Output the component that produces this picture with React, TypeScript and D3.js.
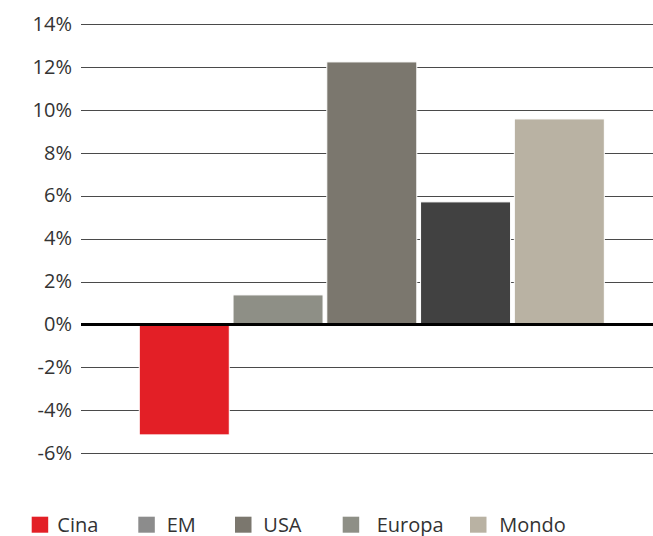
import React from "react";
import * as d3 from "d3";

const categories = ["Cina", "EM", "USA", "Europa", "Mondo"];
const values = [-5.15, 1.38, 12.25, 5.72, 9.59];
const barColors = ["#e31f26", "#8e8f86", "#7b776e", "#414141", "#b9b2a3"];
const legendLabels = ["Cina", "EM", "USA", "Europa", "Mondo"];
const legendColors = ["#e31f26", "#8c8c8c", "#7b776e", "#8e8f86", "#b9b2a3"];
const yTicks = [14, 12, 10, 8, 6, 4, 2, 0, -2, -4, -6];

const W = 653;
const H = 536;
const legendSquareX = [31.7, 138.3, 235, 342.7, 470];
const legendTextX = [57.3, 166.7, 263.3, 376.7, 499.3];

export default function App() {
  const y = d3.scaleLinear().domain([-6, 14]).range([453.1, 24.4]);
  const x = d3
    .scaleBand<string>()
    .domain(categories)
    .range([137.4, 606.2])
    .paddingInner(0.04)
    .paddingOuter(0.02);
  const gridX0 = 81;
  const font = "'Open Sans', sans-serif";

  return (
    <div style={{ position: "fixed", left: 0, top: 0, width: W, height: H }}>
      <svg width={W} height={H} style={{ display: "block" }}>
        <rect width={W} height={H} fill="#fff" />
        {yTicks.map((t) => (
          <g key={t}>
            {t !== 0 && (
              <line
                x1={gridX0}
                x2={W}
                y1={Math.round(y(t)) + 0.5}
                y2={Math.round(y(t)) + 0.5}
                stroke="#4a4a4a"
                strokeWidth={1}
              />
            )}
            <text
              x={72}
              y={y(t) + 6.5}
              textAnchor="end"
              fontFamily={font}
              fontSize={20}
              fill="#333"
            >
              {`${t}%`}
            </text>
          </g>
        ))}
        {categories.map((c, i) => {
          const v = values[i];
          const y0 = y(Math.max(0, v));
          const y1 = y(Math.min(0, v));
          return (
            <rect
              key={c}
              x={x(c)}
              y={y0}
              width={x.bandwidth()}
              height={y1 - y0}
              fill={barColors[i]}
              stroke="#fff"
              strokeWidth={1}
            />
          );
        })}
        <line
          x1={gridX0}
          x2={W}
          y1={y(0)}
          y2={y(0)}
          stroke="#000"
          strokeWidth={3}
        />
        {legendLabels.map((l, i) => (
          <g key={l}>
            <rect
              x={legendSquareX[i]}
              y={516.7}
              width={16.5}
              height={16}
              fill={legendColors[i]}
            />
            <text
              x={legendTextX[i]}
              y={532.3}
              fontFamily={font}
              fontSize={20}
              fill="#333"
            >
              {l}
            </text>
          </g>
        ))}
      </svg>
    </div>
  );
}
